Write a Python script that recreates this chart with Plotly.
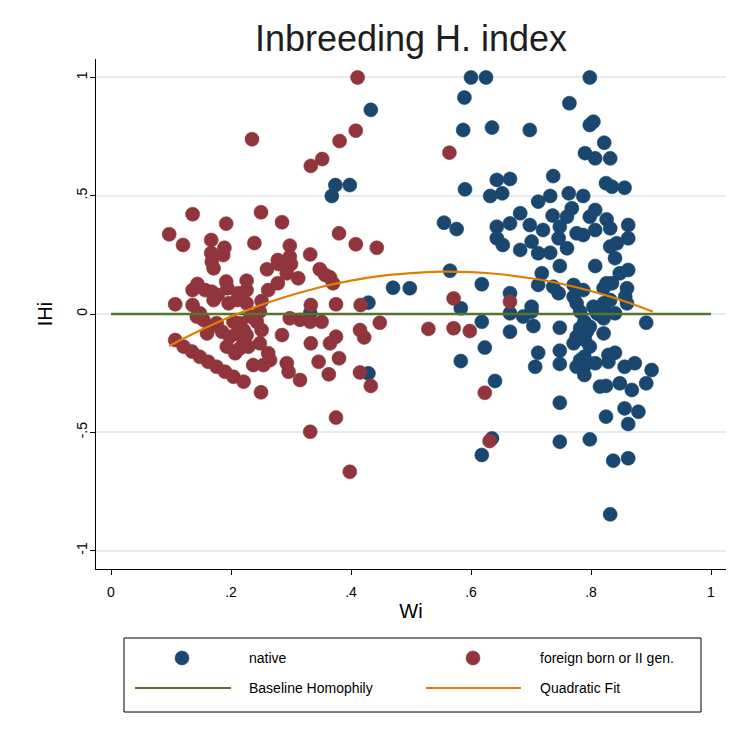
import plotly.graph_objects as go

# ---------------- data ----------------
native_x = [0.433,0.374,0.398,0.368,0.600,0.625,0.589,0.587,0.635,0.590,0.555,0.576,0.632,0.643,0.643,0.643,
            0.798,0.764,0.698,0.804,0.798,0.790,0.807,0.665,0.652,0.737,0.712,0.732,0.763,0.787,0.682,0.665,
            0.653,0.698,0.720,0.736,0.768,0.760,0.748,0.746,0.760,0.776,0.787,0.798,0.807,0.682,0.701,0.712,
            0.732,0.822,0.832,0.825,0.835,0.856,0.826,0.832,0.862,0.862,0.807,0.832,0.843,0.840,0.748,0.807,
            0.848,0.862,0.718,0.712,0.771,0.787,0.826,0.835,0.860,0.737,0.746,0.771,0.776,0.804,0.821,0.832,
            0.857,0.860,0.701,0.821,0.807,0.823,0.840,0.821,0.892,0.782,0.793,0.821,0.790,0.798,0.829,0.840,
            0.829,0.782,0.790,0.807,0.789,0.856,0.873,0.901,0.825,0.848,0.868,0.892,0.856,0.879,0.862,0.825,
            0.798,0.837,0.862,0.832,0.704,0.748,0.810,0.789,0.798,0.782,0.771,0.712,0.707,0.748,0.748,0.789,
            0.776,0.748,0.748,0.565,0.618,0.583,0.618,0.623,0.583,0.640,0.635,0.618,0.665,0.665,0.665,0.687,
            0.701,0.782,0.815,0.776,0.815,0.470,0.498,0.429,0.429,0.332]
native_y = [0.863,0.545,0.545,0.499,1.0,1.0,0.915,0.778,0.788,0.527,0.386,0.359,0.499,0.567,0.369,0.320,
            1.0,0.891,0.778,0.813,0.799,0.680,0.658,0.571,0.510,0.583,0.475,0.499,0.510,0.499,0.426,0.383,
            0.292,0.376,0.355,0.416,0.447,0.411,0.369,0.320,0.278,0.341,0.334,0.411,0.440,0.271,0.306,0.257,
            0.259,0.724,0.658,0.553,0.538,0.534,0.400,0.362,0.376,0.320,0.355,0.285,0.299,0.236,0.203,0.203,
            0.172,0.186,0.172,0.123,0.123,0.101,0.130,0.130,0.109,0.115,0.088,0.073,0.045,0.031,0.045,0.059,
            0.073,0.045,0.031,0.109,0.024,0.010,0.003,-0.018,-0.037,-0.060,-0.075,-0.082,-0.110,-0.138,-0.173,-0.164,
            -0.202,-0.195,-0.216,-0.208,-0.258,-0.223,-0.208,-0.237,-0.304,-0.293,-0.321,-0.293,-0.399,-0.413,-0.465,-0.434,
            -0.530,-0.620,-0.610,-0.847,-0.051,-0.058,0.003,-0.033,-0.054,-0.082,-0.124,-0.164,-0.223,-0.155,-0.211,-0.181,
            -0.223,-0.375,-0.540,0.183,0.126,0.024,-0.033,-0.142,-0.199,-0.283,-0.526,-0.596,0.088,0.003,-0.075,-0.011,
            0.010,0.010,-0.004,-0.096,-0.307,0.111,0.109,0.048,-0.251,0.004]

foreign_x = [0.097,0.120,0.136,0.167,0.192,0.189,0.239,0.250,0.285,0.298,0.332,0.235,0.167,0.187,0.298,0.278,
             0.380,0.171,0.168,0.300,0.279,0.260,0.312,0.293,0.278,0.348,0.365,0.370,0.226,0.192,0.194,0.144,
             0.136,0.157,0.168,0.178,0.212,0.226,0.262,0.196,0.210,0.226,0.251,0.248,0.107,0.136,0.333,0.375,
             0.143,0.154,0.176,0.204,0.215,0.232,0.243,0.251,0.298,0.315,0.332,0.351,0.160,0.185,0.198,0.210,
             0.221,0.215,0.193,0.207,0.248,0.285,0.333,0.365,0.375,0.262,0.265,0.237,0.254,0.293,0.296,0.346,
             0.380,0.315,0.363,0.250,0.107,0.121,0.135,0.148,0.162,0.176,0.190,0.204,0.221,0.332,0.357,0.416,
             0.448,0.415,0.422,0.415,0.433,0.375,0.398,0.411,0.408,0.381,0.352,0.333,0.408,0.443,0.564,0.571,
             0.529,0.571,0.598,0.623,0.631,0.665,0.171,0.148,0.165,0.221,0.226,0.229]
foreign_y = [0.337,0.292,0.422,0.313,0.382,0.280,0.300,0.430,0.388,0.289,0.252,0.739,0.258,0.249,0.242,0.228,
             0.341,0.193,0.221,0.211,0.211,0.189,0.151,0.172,0.130,0.189,0.155,0.130,0.141,0.137,0.109,0.127,
             0.101,0.101,0.094,0.080,0.088,0.101,0.101,0.045,0.059,0.045,0.055,0.010,0.041,0.038,0.038,0.041,
             -0.011,-0.025,-0.039,-0.033,-0.039,-0.011,-0.033,-0.068,-0.018,-0.025,-0.033,-0.033,-0.082,-0.075,-0.096,-0.082,
             -0.117,-0.145,-0.138,-0.166,-0.124,-0.089,-0.124,-0.124,-0.096,-0.166,-0.195,-0.216,-0.216,-0.208,-0.244,-0.202,
             -0.187,-0.279,-0.255,-0.331,-0.110,-0.138,-0.159,-0.181,-0.202,-0.223,-0.244,-0.265,-0.286,-0.498,0.165,0.038,
             -0.037,-0.068,-0.099,-0.247,-0.304,-0.438,-0.667,1.0,0.775,0.731,0.655,0.626,0.295,0.280,0.682,0.066,
             -0.063,-0.060,-0.072,-0.333,-0.537,0.052,0.059,0.003,-0.054,-0.068,-0.089,-0.138]

baseline_x = [0.0, 1.0]
baseline_y = [0.0, 0.0]

qfit_x = [0.097,0.15,0.2,0.25,0.3,0.35,0.4,0.45,0.5,0.55,0.6,0.65,0.7,0.75,0.8,0.85,0.9,0.903]
qfit_y = [-0.135,-0.068,-0.011,0.038,0.079,0.114,0.141,0.161,0.173,0.179,0.177,0.168,0.151,0.128,0.097,0.059,0.013,0.010]

x_ticks = [0, 0.2, 0.4, 0.6, 0.8, 1]
x_ticklabels = ["0", ".2", ".4", ".6", ".8", "1"]
y_ticks = [-1, -0.5, 0, 0.5, 1]
y_ticklabels = ["-1", "-.5", "0", ".5", "1"]

legend_labels = ["native", "foreign born or II gen.", "Baseline Homophily", "Quadratic Fit"]

# ---------------- style ----------------
NAVY = "#1a476f"
MAROON = "#90353b"
GREEN = "#55752f"
ORANGE = "#e37e00"
FONT = "Liberation Sans, Arial, sans-serif"

OFF = 8                      # page body margin in the browser
W, H = 739 - OFF, 742 - OFF
L, T = 96 - OFF, 59 - OFF    # plot area left/top in figure pixels
PR, PB = 726 - OFF, 569 - OFF
R, B = W - PR, H - PB
PW, PH = PR - L, PB - T


def px(xp):
    """screen x (reference pixels) -> paper x"""
    return (xp - OFF - L) / PW


def py(yp):
    """screen y (reference pixels) -> paper y"""
    return (PB - (yp - OFF)) / PH


fig = go.Figure()
fig.add_trace(go.Scatter(x=native_x, y=native_y, mode="markers", name=legend_labels[0],
                         marker=dict(color=NAVY, size=14, line=dict(width=0.6, color=NAVY))))
fig.add_trace(go.Scatter(x=foreign_x, y=foreign_y, mode="markers", name=legend_labels[1],
                         marker=dict(color=MAROON, size=14, line=dict(width=0.6, color=MAROON))))
fig.add_trace(go.Scatter(x=baseline_x, y=baseline_y, mode="lines", name=legend_labels[2],
                         line=dict(color=GREEN, width=2.4)))
fig.add_trace(go.Scatter(x=qfit_x, y=qfit_y, mode="lines", name=legend_labels[3],
                         line=dict(color=ORANGE, width=2.2, shape="spline")))

# manual Stata-like legend
shapes = []
annotations = []
shapes.append(dict(type="rect", xref="paper", yref="paper", x0=px(124), x1=px(701), y0=py(638), y1=py(712),
                   line=dict(color="black", width=1), fillcolor="white", layer="above"))
for cx, col in [(182, NAVY), (473, MAROON)]:
    shapes.append(dict(type="circle", xref="paper", yref="paper", xsizemode="pixel", ysizemode="pixel",
                       xanchor=px(cx), yanchor=py(658), x0=-7, x1=7, y0=-7, y1=7,
                       fillcolor=col, line=dict(color=col, width=0.6), layer="above"))
for x0, x1, col in [(135, 231, GREEN), (426, 521, ORANGE)]:
    shapes.append(dict(type="line", xref="paper", yref="paper", x0=px(x0), x1=px(x1), y0=py(688), y1=py(688),
                       line=dict(color=col, width=2), layer="above"))
for (tx, ty), lab in zip([(247, 658), (538, 658), (247, 688), (538, 688)], legend_labels):
    annotations.append(dict(text=lab, xref="paper", yref="paper", x=px(tx), y=py(ty), xanchor="left",
                            yanchor="middle", showarrow=False, font=dict(family=FONT, size=14, color="black")))

fig.update_layout(
    width=W, height=H,
    margin=dict(l=L, r=R, t=T, b=B, autoexpand=False),
    paper_bgcolor="white", plot_bgcolor="white",
    showlegend=False,
    title=dict(text="Inbreeding H. index", x=0.5, xref="paper", xanchor="center",
               y=1 - (38 - OFF) / H, yref="container", yanchor="middle",
               font=dict(family=FONT, size=36, color="#1e1e1e")),
    font=dict(family=FONT, color="black"),
    shapes=shapes, annotations=annotations,
)
fig.update_xaxes(range=[-0.025, 1.025], tickvals=x_ticks, ticktext=x_ticklabels, showgrid=False,
                 zeroline=False, showline=True, linecolor="black", linewidth=1, ticks="outside",
                 ticklen=5, tickcolor="black", tickfont=dict(size=14, family=FONT), ticklabelstandoff=5,
                 title=dict(text="Wi", font=dict(size=20, family=FONT), standoff=5))
fig.update_yaxes(range=[-1.078, 1.078], tickvals=y_ticks, ticktext=y_ticklabels, showgrid=True,
                 gridcolor="#e4ecef", gridwidth=1.5, zeroline=False, showline=True, linecolor="black",
                 linewidth=1, ticks="outside", ticklen=5, tickcolor="black", tickangle=-90,
                 tickfont=dict(size=14, family=FONT), ticklabelstandoff=-3,
                 title=dict(text="IHi", font=dict(size=20, family=FONT), standoff=16))

fig.write_html("out.html")
